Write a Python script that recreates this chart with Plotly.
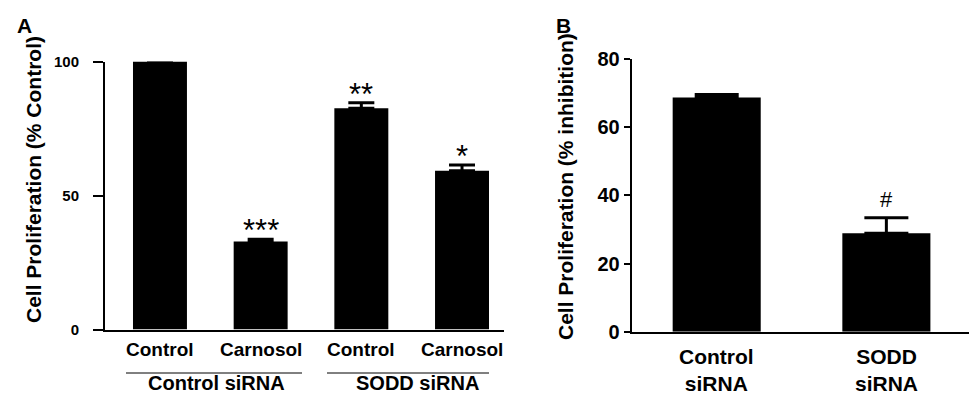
import plotly.graph_objects as go

W, H = 969, 395
FONT = "Liberation Sans, Arial, sans-serif"

# ---- data ----
a_treat = ["Control", "Carnosol", "Control", "Carnosol"]
a_groups = ["Control siRNA", "SODD siRNA"]
a_values = [100, 32.8, 82.6, 59.2]
a_errors = [0, 0.9, 2.0, 2.2]
a_marks = ["", "***", "**", "*"]
a_yticks = [0, 50, 100]

b_cats = ["Control<br>siRNA", "SODD<br>siRNA"]
b_values = [68.7, 28.9]
b_errors = [0.9, 4.5]
b_marks = ["", "#"]
b_yticks = [0, 20, 40, 60, 80]


def px(x):
    return x / W


def py(y):
    return 1 - y / H


fig = go.Figure()

fig.add_trace(go.Bar(
    x=list(range(len(a_values))), y=a_values, width=0.536,
    marker=dict(color="black", line=dict(width=0)),
    error_y=dict(type="data", array=a_errors, arrayminus=[0] * len(a_errors),
                 symmetric=False, thickness=3, width=13, color="black"),
    xaxis="x", yaxis="y", showlegend=False, cliponaxis=False, hoverinfo="skip"))

fig.add_trace(go.Bar(
    x=list(range(len(b_values))), y=b_values, width=0.519,
    marker=dict(color="black", line=dict(width=0)),
    error_y=dict(type="data", array=b_errors, arrayminus=[0] * len(b_errors),
                 symmetric=False, thickness=3, width=22, color="black"),
    xaxis="x2", yaxis="y2", showlegend=False, cliponaxis=False, hoverinfo="skip"))

axcommon = dict(showgrid=False, zeroline=False, linecolor="black", linewidth=2,
                automargin=False, fixedrange=True)

fig.update_layout(
    template="none",
    width=W, height=H, margin=dict(l=0, r=0, t=0, b=0, pad=0),
    paper_bgcolor="white", plot_bgcolor="white",
    font=dict(family=FONT, color="black"),
    xaxis=dict(domain=[px(105), px(504)], range=[-0.546, 3.417], showline=True,
               showticklabels=False, ticks="", anchor="y", **axcommon),
    yaxis=dict(domain=[py(329.5), py(61.5)], range=[0, 100], showline=True,
               tickvals=a_yticks, ticks="outside", ticklen=10, tickwidth=2,
               ticklabelstandoff=11,
               tickcolor="black", tickfont=dict(size=15, family=FONT, weight="bold"),
               anchor="x", **axcommon),
    xaxis2=dict(domain=[px(631.7), 1.0], range=[-0.501, 1.487], showline=True,
                showticklabels=False, ticks="", anchor="y2", **axcommon),
    yaxis2=dict(domain=[py(331.7), py(59)], range=[0, 80], showline=True,
                tickvals=b_yticks, ticks="outside", ticklen=6, tickwidth=2,
                tickcolor="black", tickfont=dict(size=20, family=FONT, weight="bold"),
                anchor="x2", **axcommon),
)

ann = []


def A(**kw):
    d = dict(showarrow=False, xanchor="center", yanchor="middle")
    d.update(kw)
    ann.append(d)


# panel letters
A(text="<b>A</b>", x=px(24), y=py(25), xref="paper", yref="paper", font=dict(size=21))
A(text="<b>B</b>", x=px(563), y=py(25), xref="paper", yref="paper", font=dict(size=21))
# y titles
A(text="<b>Cell Proliferation (% Control)</b>", x=px(33), y=py(180),
  xref="paper", yref="paper", textangle=-90, font=dict(size=21))
A(text="<b>Cell Proliferation (% inhibition)</b>", x=px(565), y=py(187),
  xref="paper", yref="paper", textangle=-90, font=dict(size=21))
# A treatment labels
for i, t in enumerate(a_treat):
    A(text=f"<b>{t}</b>", x=i, y=py(349), xref="x", yref="paper", font=dict(size=19))
# A group labels
for i, g in enumerate(a_groups):
    A(text=f"<b>{g}</b>", x=2 * i + 0.5 + 0.06, y=py(383), xref="x", yref="paper",
      font=dict(size=20))
# significance marks A
for i, (m, v, e) in enumerate(zip(a_marks, a_values, a_errors)):
    if m:
        A(text=m, x=i, y=v + e, xref="x", yref="y", yanchor="bottom",
          yshift=-11, font=dict(size=31))
# B category labels
for i, c in enumerate(b_cats):
    A(text=f"<b>{c}</b>", x=i, y=py(370), xref="x2", yref="paper", font=dict(size=21))
# significance marks B
for i, (m, v, e) in enumerate(zip(b_marks, b_values, b_errors)):
    if m:
        A(text=m, x=i, y=v + e, xref="x2", yref="y2", yanchor="bottom", yshift=4,
          font=dict(size=22))

fig.update_layout(annotations=ann)

# group underlines in panel A
fig.add_shape(type="line", xref="paper", yref="paper", x0=px(126), x1=px(302),
              y0=py(373), y1=py(373), line=dict(color="black", width=1))
fig.add_shape(type="line", xref="paper", yref="paper", x0=px(327), x1=px(489),
              y0=py(373), y1=py(373), line=dict(color="black", width=1))

fig.write_html("out.html", config={"displayModeBar": False},
               post_script="document.body.style.margin='0';"
                           "document.body.style.overflow='hidden';")
